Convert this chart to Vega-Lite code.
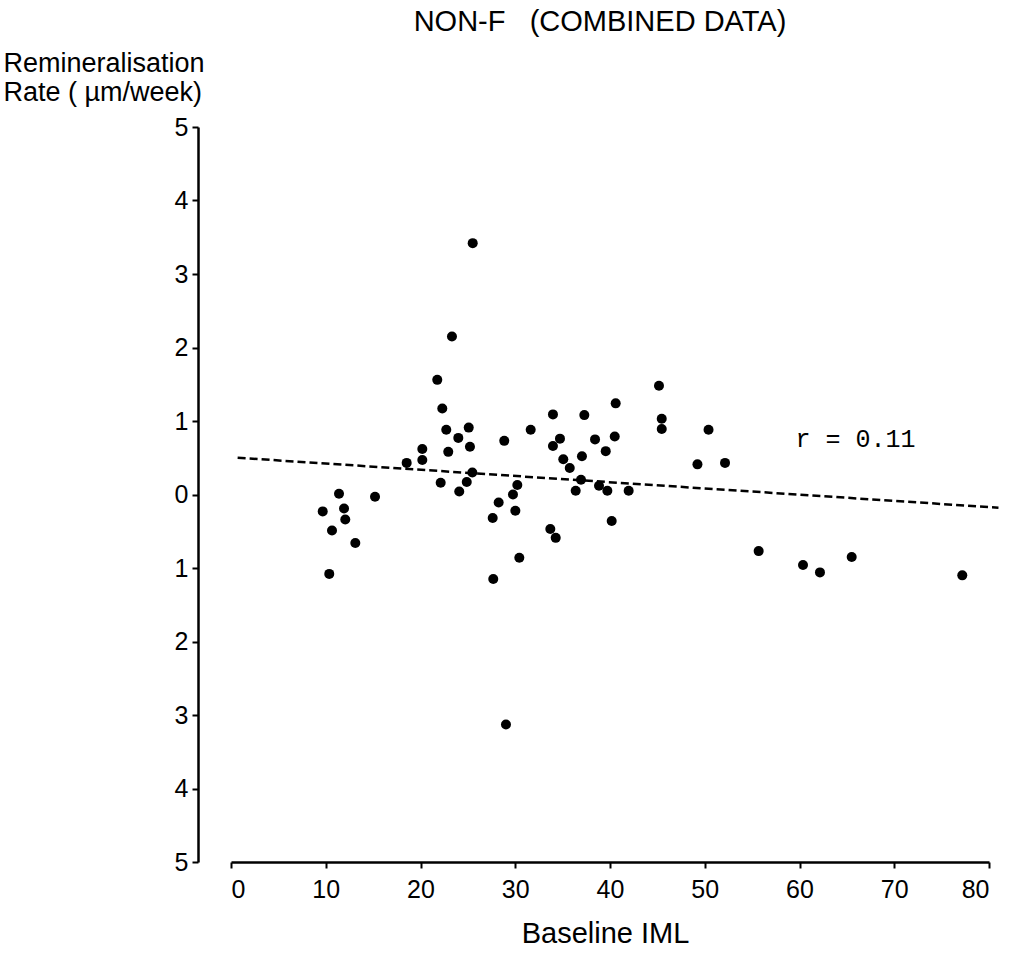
{
  "$schema": "https://vega.github.io/schema/vega-lite/v6.json",
  "autosize": "none",
  "width": 758,
  "height": 735,
  "padding": {"left": 231, "top": 127, "right": 28, "bottom": 95},
  "background": "white",
  "config": {
    "view": {"stroke": null},
    "font": "Liberation Sans",
    "axis": {
      "grid": false,
      "domainColor": "black",
      "domainWidth": 2.5,
      "tickColor": "black",
      "tickWidth": 2,
      "labelColor": "black",
      "labelFont": "Liberation Sans",
      "labelFontSize": 25,
      "titleColor": "black",
      "titleFont": "Liberation Sans",
      "titleFontSize": 29,
      "titleFontWeight": "normal"
    }
  },
  "title": {
    "text": "NON-F\u00a0\u00a0\u00a0(COMBINED DATA)",
    "font": "Liberation Sans",
    "fontSize": 29,
    "fontWeight": "normal",
    "color": "black",
    "anchor": "middle",
    "dx": -10,
    "offset": 12
  },
  "datasets": {
    "points": [
      {"iml": 9.68, "rate": -0.23},
      {"iml": 10.66, "rate": -0.49},
      {"iml": 10.37, "rate": -1.08},
      {"iml": 11.40, "rate": 0.01},
      {"iml": 11.93, "rate": -0.19},
      {"iml": 12.06, "rate": -0.34},
      {"iml": 13.12, "rate": -0.66},
      {"iml": 15.20, "rate": -0.03},
      {"iml": 18.54, "rate": 0.43},
      {"iml": 20.19, "rate": 0.62},
      {"iml": 20.19, "rate": 0.47},
      {"iml": 21.77, "rate": 1.56},
      {"iml": 22.30, "rate": 1.17},
      {"iml": 22.13, "rate": 0.16},
      {"iml": 22.72, "rate": 0.88},
      {"iml": 23.32, "rate": 2.15},
      {"iml": 22.93, "rate": 0.58},
      {"iml": 23.99, "rate": 0.77},
      {"iml": 24.09, "rate": 0.04},
      {"iml": 24.88, "rate": 0.17},
      {"iml": 25.09, "rate": 0.91},
      {"iml": 25.22, "rate": 0.65},
      {"iml": 25.51, "rate": 3.42},
      {"iml": 25.47, "rate": 0.30},
      {"iml": 27.62, "rate": -0.32},
      {"iml": 27.68, "rate": -1.15},
      {"iml": 28.25, "rate": -0.11},
      {"iml": 28.84, "rate": 0.73},
      {"iml": 29.02, "rate": -3.13},
      {"iml": 29.76, "rate": 0.0},
      {"iml": 30.22, "rate": 0.13},
      {"iml": 30.01, "rate": -0.22},
      {"iml": 30.43, "rate": -0.86},
      {"iml": 31.63, "rate": 0.88},
      {"iml": 33.70, "rate": -0.47},
      {"iml": 33.98, "rate": 1.09},
      {"iml": 33.98, "rate": 0.66},
      {"iml": 34.27, "rate": -0.59},
      {"iml": 34.72, "rate": 0.76},
      {"iml": 35.07, "rate": 0.48},
      {"iml": 35.75, "rate": 0.36},
      {"iml": 36.38, "rate": 0.05},
      {"iml": 37.04, "rate": 0.52},
      {"iml": 36.94, "rate": 0.20},
      {"iml": 37.29, "rate": 1.08},
      {"iml": 38.42, "rate": 0.75},
      {"iml": 38.84, "rate": 0.12},
      {"iml": 39.55, "rate": 0.59},
      {"iml": 39.72, "rate": 0.05},
      {"iml": 40.18, "rate": -0.36},
      {"iml": 40.50, "rate": 0.79},
      {"iml": 40.60, "rate": 1.24},
      {"iml": 41.97, "rate": 0.05},
      {"iml": 45.17, "rate": 1.48},
      {"iml": 45.46, "rate": 1.03},
      {"iml": 45.46, "rate": 0.89},
      {"iml": 49.23, "rate": 0.41},
      {"iml": 50.40, "rate": 0.88},
      {"iml": 52.14, "rate": 0.43},
      {"iml": 55.69, "rate": -0.77},
      {"iml": 60.37, "rate": -0.96},
      {"iml": 62.16, "rate": -1.06},
      {"iml": 65.51, "rate": -0.85},
      {"iml": 77.18, "rate": -1.10}
    ],
    "fit": [
      {"iml": 0.7, "rate": 0.50},
      {"iml": 81.0, "rate": -0.18}
    ],
    "note": [
      {"iml": 65.9, "rate": 0.755, "label": "r = 0.11"}
    ]
  },
  "layer": [
    {
      "data": {"name": "points"},
      "mark": {"type": "point", "filled": true, "shape": "circle", "size": 100, "color": "black", "opacity": 1},
      "encoding": {
        "x": {
          "field": "iml",
          "type": "quantitative",
          "scale": {"domain": [0, 80], "nice": false, "zero": false},
          "axis": {
            "values": [0, 10, 20, 30, 40, 50, 60, 70, 80],
            "tickSize": 6,
            "labelPadding": 9,
            "title": "Baseline IML",
            "titleX": 374,
            "titleY": 80,
            "titleAlign": "center",
            "titleBaseline": "alphabetic"
          }
        },
        "y": {
          "field": "rate",
          "type": "quantitative",
          "scale": {"domain": [-5, 5], "nice": false, "zero": false},
          "axis": {
            "values": [-5, -4, -3, -2, -1, 0, 1, 2, 3, 4, 5],
            "labelExpr": "'' + abs(datum.value)",
            "offset": 33,
            "tickSize": 6,
            "labelPadding": 4,
            "title": ["Remineralisation", "Rate ( µm/week)"],
            "titleFontSize": 27,
            "titleAngle": 0,
            "titleAlign": "left",
            "titleBaseline": "alphabetic",
            "titleLineHeight": 29,
            "titleX": -195,
            "titleY": -56
          }
        }
      }
    },
    {
      "data": {"name": "fit"},
      "mark": {"type": "line", "color": "black", "strokeWidth": 2.5, "strokeDash": [8, 4], "clip": false},
      "encoding": {
        "x": {"field": "iml", "type": "quantitative"},
        "y": {"field": "rate", "type": "quantitative"}
      }
    },
    {
      "data": {"name": "note"},
      "mark": {"type": "text", "font": "Liberation Mono", "fontSize": 25, "color": "black", "align": "center", "baseline": "middle"},
      "encoding": {
        "x": {"field": "iml", "type": "quantitative"},
        "y": {"field": "rate", "type": "quantitative"},
        "text": {"field": "label"}
      }
    }
  ]
}
